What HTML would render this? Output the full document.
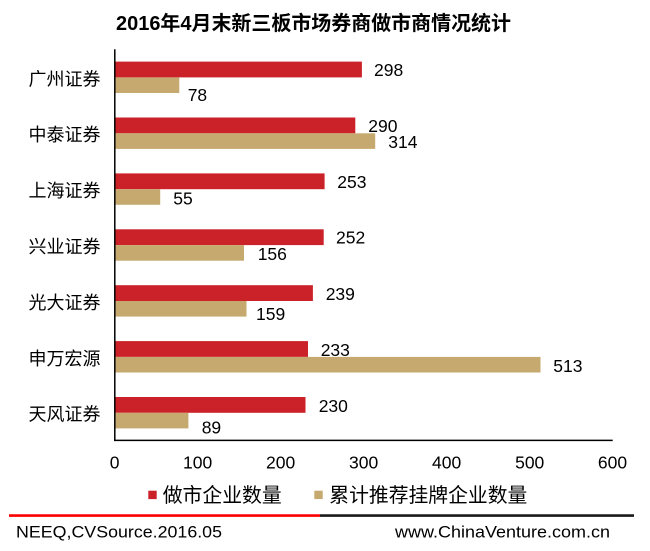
<!DOCTYPE html>
<html>
<head>
<meta charset="utf-8">
<style>
  html,body{margin:0;padding:0;background:#fff;}
  svg{display:block;}
  .cjk{font-family:"Liberation Sans","Noto Sans CJK SC","WenQuanYi Zen Hei",sans-serif;}
  .num{font-family:"Liberation Sans",sans-serif;font-size:17.5px;fill:#000;}
</style>
</head>
<body>
<svg width="650" height="551" viewBox="0 0 650 551" xmlns="http://www.w3.org/2000/svg">
  <rect x="0" y="0" width="650" height="551" fill="#fff"/>
  <!-- Title -->
  <text class="cjk" x="116" y="30" font-size="20" font-weight="bold" fill="#000" textLength="395" lengthAdjust="spacingAndGlyphs">2016年4月末新三板市场券商做市商情况统计</text>

  <!-- Bars (0 at x=114.5, scale 0.8303 px/unit) -->
  <g>
    <!-- 广州证券 -->
    <rect x="114.5" y="61.6" width="247.4" height="15.8" fill="#CB2229"/>
    <rect x="114.5" y="77.4" width="64.8" height="15.6" fill="#C6A96F"/>
    <!-- 中泰证券 -->
    <rect x="114.5" y="117.5" width="240.8" height="15.8" fill="#CB2229"/>
    <rect x="114.5" y="133.3" width="260.7" height="15.6" fill="#C6A96F"/>
    <!-- 上海证券 -->
    <rect x="114.5" y="173.4" width="210.1" height="15.8" fill="#CB2229"/>
    <rect x="114.5" y="189.2" width="45.7" height="15.6" fill="#C6A96F"/>
    <!-- 兴业证券 -->
    <rect x="114.5" y="229.3" width="209.2" height="15.8" fill="#CB2229"/>
    <rect x="114.5" y="245.1" width="129.5" height="15.6" fill="#C6A96F"/>
    <!-- 光大证券 -->
    <rect x="114.5" y="285.2" width="198.4" height="15.8" fill="#CB2229"/>
    <rect x="114.5" y="301.0" width="132.0" height="15.6" fill="#C6A96F"/>
    <!-- 申万宏源 -->
    <rect x="114.5" y="341.1" width="193.5" height="15.8" fill="#CB2229"/>
    <rect x="114.5" y="356.9" width="426.0" height="15.6" fill="#C6A96F"/>
    <!-- 天风证券 -->
    <rect x="114.5" y="397.0" width="191.0" height="15.8" fill="#CB2229"/>
    <rect x="114.5" y="412.8" width="73.9" height="15.6" fill="#C6A96F"/>
  </g>

  <!-- Axes -->
  <line x1="114.8" y1="49.3" x2="114.8" y2="441" stroke="#000" stroke-width="1.5"/>
  <line x1="114" y1="440.4" x2="612.7" y2="440.4" stroke="#000" stroke-width="1.5"/>

  <!-- Category labels -->
  <g class="cjk" font-size="18" fill="#000" text-anchor="end">
    <text x="100.5" y="85.3">广州证券</text>
    <text x="100.5" y="141.2">中泰证券</text>
    <text x="100.5" y="197.1">上海证券</text>
    <text x="100.5" y="253.0">兴业证券</text>
    <text x="100.5" y="308.9">光大证券</text>
    <text x="100.5" y="364.8">申万宏源</text>
    <text x="100.5" y="420.7">天风证券</text>
  </g>

  <!-- Data labels -->
  <g class="num">
    <text x="374" y="76">298</text>
    <text x="187.7" y="101">78</text>
    <text x="368.3" y="132">290</text>
    <text x="388.3" y="148">314</text>
    <text x="337.3" y="188">253</text>
    <text x="173.3" y="204.3">55</text>
    <text x="336" y="243.7">252</text>
    <text x="257.7" y="260">156</text>
    <text x="325.7" y="300">239</text>
    <text x="256" y="320">159</text>
    <text x="320.7" y="356">233</text>
    <text x="553.3" y="372">513</text>
    <text x="318.7" y="412">230</text>
    <text x="201.7" y="433.3">89</text>
  </g>

  <!-- Tick labels -->
  <g class="num" text-anchor="middle">
    <text x="114.6" y="468.5">0</text>
    <text x="197.6" y="468.5">100</text>
    <text x="280.6" y="468.5">200</text>
    <text x="363.6" y="468.5">300</text>
    <text x="446.6" y="468.5">400</text>
    <text x="529.7" y="468.5">500</text>
    <text x="612.5" y="468.5">600</text>
  </g>

  <!-- Legend -->
  <rect x="148.3" y="490.7" width="8.4" height="8.4" fill="#CB2229"/>
  <text class="cjk" x="162.7" y="502" font-size="20" fill="#000" textLength="119" lengthAdjust="spacingAndGlyphs">做市企业数量</text>
  <rect x="314.3" y="490.7" width="8.4" height="8.4" fill="#C6A96F"/>
  <text class="cjk" x="329.3" y="502" font-size="20" fill="#000" textLength="198" lengthAdjust="spacingAndGlyphs">累计推荐挂牌企业数量</text>

  <!-- Footer line -->
  <line x1="9" y1="515.6" x2="320" y2="515.6" stroke="#FF0000" stroke-width="2.6"/>
  <line x1="320" y1="515.6" x2="634" y2="515.6" stroke="#1a1a1a" stroke-width="2.6"/>

  <!-- Footer text -->
  <text x="16" y="537.3" font-family="Liberation Sans, sans-serif" font-size="16.5" fill="#000" textLength="206" lengthAdjust="spacingAndGlyphs">NEEQ,CVSource.2016.05</text>
  <text x="395" y="537.3" font-family="Liberation Sans, sans-serif" font-size="16.5" fill="#000" textLength="215" lengthAdjust="spacingAndGlyphs">www.ChinaVenture.com.cn</text>
</svg>
</body>
</html>
